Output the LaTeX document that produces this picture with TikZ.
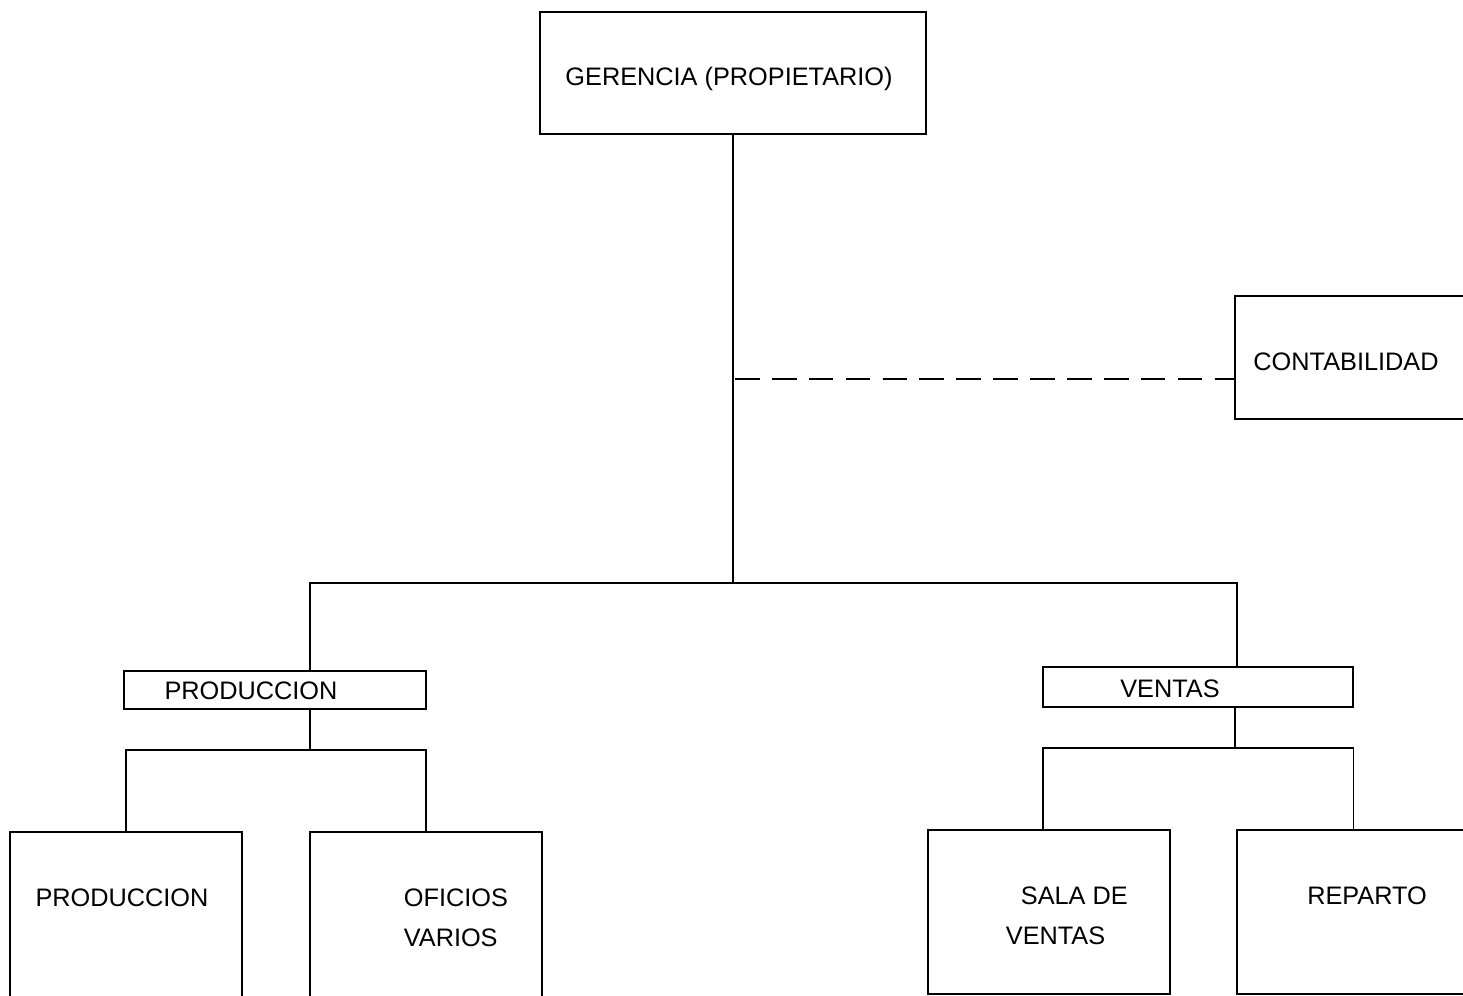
\documentclass[tikz,border=0pt]{standalone}
\usepackage{fontspec}
\setmainfont{Liberation Sans}
\usetikzlibrary{positioning}

\begin{document}
\begin{tikzpicture}[x=0.02cm,y=-0.02cm,line width=1pt,
    box/.style={draw,inner sep=0pt},
    lbl/.style={inner sep=0pt,font=\fontsize{14.4}{23}\selectfont}]

  \clip (0,0) rectangle (1463,996);

  % The boxes
  \node[box,minimum width=7.72cm,minimum height=2.44cm] (ger) at (733,73) {};
  \node[box,minimum width=4.9cm,minimum height=2.46cm] (cont) at (1357.5,357.5) {};
  \node[box,minimum width=6.04cm,minimum height=0.76cm] (prodA) at (275,690) {};
  \node[box,minimum width=6.2cm,minimum height=0.8cm] (ventas) at (1198,687) {};
  \node[box,minimum width=4.64cm,minimum height=3.56cm] (prodB) at (126,921) {};
  \node[box,minimum width=4.64cm,minimum height=3.56cm] (ofic) at (426,921) {};
  \node[box,minimum width=4.84cm,minimum height=3.28cm] (sala) at (1049,912) {};
  \node[box,minimum width=4.86cm,minimum height=3.28cm] (rep) at (1358.5,912) {};

  % Their texts
  \node[lbl] (gerT) at (729,79) {GERENCIA (PROPIETARIO)};
  \node[lbl] (contT) at (1346,362) {CONTABILIDAD};
  \node[lbl] (prodAT) at (251,691) {PRODUCCION};
  \node[lbl] (ventasT) at (1170,689) {VENTAS};
  \node[lbl] (prodBT) at (122,898) {PRODUCCION};
  \node[lbl,align=left,anchor=west] (oficT) at (403,918) {OFICIOS\\VARIOS};
  \node[lbl,align=left,anchor=west] (salaT) at (1005,916) {\hspace*{0.3cm}SALA DE\\VENTAS};
  \node[lbl] (repT) at (1367,896) {REPARTO};

  % Connectors
  \coordinate (lt) at (310,583);
  \coordinate (rt) at (1237,583);
  \coordinate (link) at (735,379);
  \coordinate (pbar) at (310,750);
  \coordinate (vbar) at (1235,748);

  \draw (ger.south) -- (ger.south |- lt);
  \draw (lt |- prodA.north) -- (lt) -- (rt) -- (rt |- ventas.north);
  \draw[dash pattern=on 14pt off 7pt] (link) -- (link -| cont.west);

  \draw (lt |- prodA.south) -- (pbar);
  \draw (prodB.north) |- (pbar) -| (ofic.north);

  \draw (vbar |- ventas.south) -- (vbar);
  \draw ([xshift=-0.12cm]sala.north) |- (vbar) -| ([xshift=-0.1cm]rep.north);

\end{tikzpicture}
\end{document}
